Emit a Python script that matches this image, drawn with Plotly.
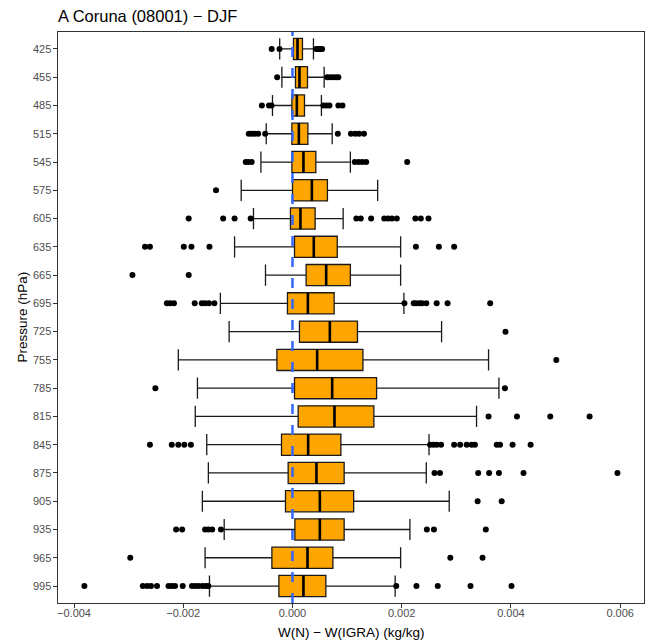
import plotly.graph_objects as go

pressure = [425, 455, 485, 515, 545, 575, 605, 635, 665, 695,
            725, 755, 785, 815, 845, 875, 905, 935, 965, 995]

lower = [-0.000234, -0.000194, -0.000366, -0.000481, -0.000578, -0.000939, -0.000714,
         -0.00106, -0.000494, -0.00132, -0.00116, -0.00209, -0.00174, -0.00178,
         -0.00157, -0.00154, -0.00165, -0.00125, -0.0016, -0.00152]
q1 = [0.000018, 0.000055, -0.000011, -0.000011, -0.00001, 0.0, -0.000037, 0.000037,
      0.00025, -0.000092, 0.000128, -0.000285, 0.000037, 0.000104, -0.000201,
      -0.000079, -0.000128, 0.000044, -0.000377, -0.000249]
median = [0.000092, 0.000128, 0.00008, 0.000117, 0.000201, 0.000355, 0.000146, 0.00039,
          0.000617, 0.000282, 0.000684, 0.000452, 0.000727, 0.000769, 0.000287,
          0.000439, 0.000501, 0.000501, 0.000275, 0.000201]
q3 = [0.000183, 0.000275, 0.00022, 0.000282, 0.000428, 0.00064, 0.000415, 0.00082,
      0.00106, 0.000763, 0.00119, 0.00129, 0.00154, 0.00149, 0.000886, 0.000946,
      0.00112, 0.000946, 0.00074, 0.000611]
upper = [0.000384, 0.00058, 0.00053, 0.000727, 0.00106, 0.00156, 0.000928, 0.00198,
         0.00198, 0.00204, 0.00273, 0.00359, 0.00378, 0.00337, 0.0025, 0.00245,
         0.00287, 0.00215, 0.00198, 0.00188]

outliers = {
    425: [-0.000381, -0.000238, 0.000434, 0.000461, 0.000489, 0.000516, 0.000543],
    455: [-0.00028, 0.000635, 0.00069, 0.000745, 0.0008, 0.00084],
    485: [-0.00056, -0.00043, -0.000384, 0.000567, 0.000622, 0.000677, 0.00084, 0.000915],
    515: [-0.0008, -0.000747, -0.000692, -0.000628, -0.0005, 0.00083, 0.00107,
          0.00115, 0.00122, 0.00131],
    545: [-0.000856, -0.00081, -0.000747, 0.00114, 0.00121, 0.00128, 0.00135, 0.0021],
    575: [-0.0014],
    605: [-0.0019, -0.00127, -0.00106, -0.000765, 0.00117, 0.00125, 0.00144, 0.00168,
          0.00175, 0.00182, 0.00191, 0.00225, 0.00235, 0.00249],
    635: [-0.0027, -0.00261, -0.00199, -0.00185, -0.00152, 0.00226, 0.00268, 0.00296],
    665: [-0.00293, -0.0019],
    695: [-0.0023, -0.00224, -0.00217, -0.00179, -0.00166, -0.0016, -0.00153, -0.00143,
          0.00205, 0.00222, 0.00226, 0.00232, 0.00237, 0.00245, 0.00264, 0.00284, 0.00362],
    725: [0.0039],
    755: [0.00483],
    785: [-0.00251, 0.00389],
    815: [0.00359, 0.00411, 0.00472, 0.00544],
    845: [-0.00261, -0.00221, -0.00209, -0.00198, -0.00186, 0.00252, 0.00258, 0.00264,
          0.00272, 0.00296, 0.00307, 0.00319, 0.00328, 0.00334, 0.00374, 0.0038,
          0.00403, 0.00436],
    875: [0.0026, 0.0027, 0.0034, 0.0036, 0.00378, 0.00423, 0.00595],
    905: [0.00339, 0.00383],
    935: [-0.00213, -0.00202, -0.0016, -0.00154, -0.00147, -0.00131, 0.00246, 0.00259,
          0.00354],
    965: [-0.00297, 0.00289, 0.00348],
    995: [-0.00381, -0.00274, -0.00266, -0.00259, -0.00248, -0.00227, -0.00221, -0.00215,
          -0.00201, -0.00184, -0.00178, -0.00172, -0.00165, -0.00159, -0.00154, 0.0019,
          0.00227, 0.00266, 0.00326, 0.00401],
}

x_ticks = [-0.004, -0.002, 0.0, 0.002, 0.004, 0.006]

FONT = "Liberation Sans, Arial, sans-serif"
idx = list(range(len(pressure)))
half = 0.375
W, H = 651, 643
ML, MR, MT, MB = 58, 7, 32, 40
PW, PH = W - ML - MR, H - MT - MB

fig = go.Figure()

fig.add_trace(go.Box(
    y=idx, q1=q1, median=median, q3=q3,
    lowerfence=lower, upperfence=upper,
    orientation="h", width=0.75, whiskerwidth=1,
    boxpoints=False, fillcolor="#FFA500",
    line=dict(color="#1a1a1a", width=1.3),
    showlegend=False, hoverinfo="skip",
))

mx, my = [], []
for i, m in zip(idx, median):
    mx += [m, m, None]
    my += [i - half, i + half, None]
fig.add_trace(go.Scatter(x=mx, y=my, mode="lines",
                         line=dict(color="black", width=2.6),
                         showlegend=False, hoverinfo="skip"))

ox, oy = [], []
for i, p in zip(idx, pressure):
    for v in outliers[p]:
        ox.append(v)
        oy.append(i)
fig.add_trace(go.Scatter(x=ox, y=oy, mode="markers",
                         marker=dict(color="black", size=6),
                         showlegend=False, hoverinfo="skip"))

fig.add_shape(type="line", x0=0, x1=0, y0=0, y1=1, xref="x", yref="paper",
              line=dict(color="#3366FF", width=2.5, dash="10px,11px"), layer="above")

fig.add_annotation(text="Pressure (hPa)", textangle=-90, showarrow=False,
                   xref="paper", yref="paper", x=(22 - ML) / PW, y=0.5,
                   xanchor="center", yanchor="middle",
                   font=dict(size=13.5, color="black", family=FONT))
fig.add_annotation(text="W(N) \u2212 W(IGRA) (kg/kg)", showarrow=False,
                   xref="paper", yref="paper", x=0.5, y=-(632 - (H - MB)) / PH,
                   xanchor="center", yanchor="middle",
                   font=dict(size=13.5, color="black", family=FONT))

fig.update_layout(
    width=W, height=H,
    margin=dict(l=ML, r=MR, t=MT, b=MB),
    paper_bgcolor="white", plot_bgcolor="white",
    font=dict(family=FONT, color="black"),
    title=dict(text="A Coruna (08001) \u2212 DJF", x=0, xref="paper", xanchor="left",
               y=1 - 16 / H, yref="container", yanchor="middle", automargin=False,
               font=dict(size=16.5, family=FONT, color="black")),
)
fig.update_xaxes(
    automargin=False,
    range=[-0.004293, 0.006436], tickvals=x_ticks, tickformat=".3f",
    showgrid=False, zeroline=False,
    showline=True, mirror=True, linecolor="#333333", linewidth=1.1,
    ticks="outside", ticklen=3.5, tickcolor="#333333", tickwidth=1.1,
    ticklabelstandoff=-4,
    tickfont=dict(size=11, color="#4D4D4D", family=FONT),
)
fig.update_yaxes(
    automargin=False,
    range=[len(pressure) - 0.4, -0.6], tickvals=idx, ticktext=[str(p) for p in pressure],
    showgrid=False, zeroline=False,
    showline=True, mirror=True, linecolor="#333333", linewidth=1.1,
    ticks="outside", ticklen=3.5, tickcolor="#333333", tickwidth=1.1,
    tickfont=dict(size=11, color="#4D4D4D", family=FONT),
)

fig.write_html(
    "out.html",
    config={"displayModeBar": False},
    post_script="document.body.style.margin='0px';document.body.style.overflow='hidden';",
)
